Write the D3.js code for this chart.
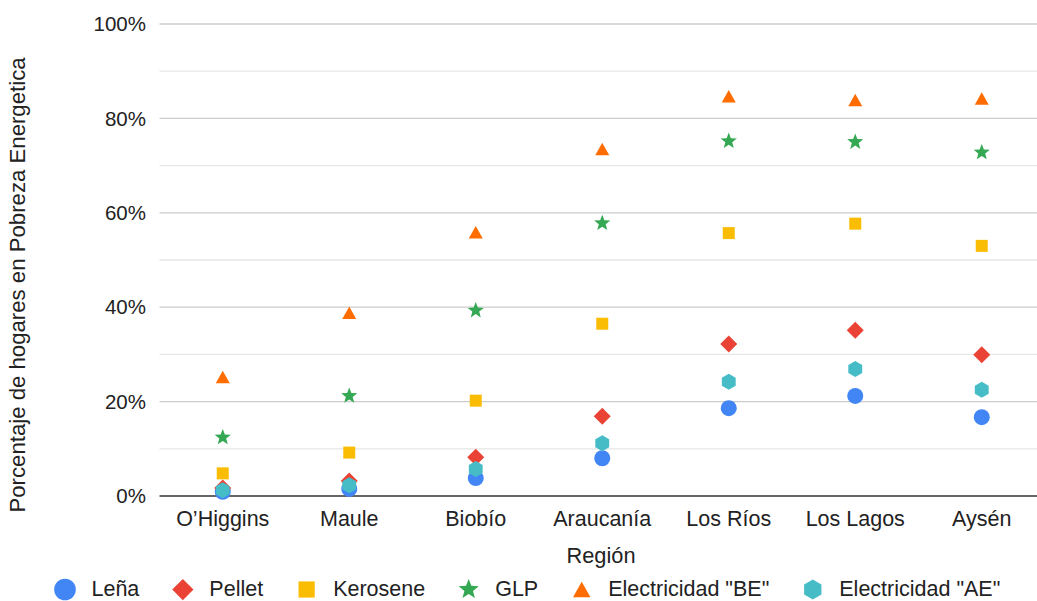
<!DOCTYPE html>
<html>
<head>
<meta charset="utf-8">
<script src="https://cdn.jsdelivr.net/npm/d3@7"></script>
<style>
  html, body { margin: 0; padding: 0; background: #fff; }
  svg { display: block; font-family: "Liberation Sans", Arial, sans-serif; }
</style>
</head>
<body>
<svg id="chart" width="1037" height="601"></svg>
<script>
const categories = ["O’Higgins", "Maule", "Biobío", "Araucanía", "Los Ríos", "Los Lagos", "Aysén"];
const lena      = [0.9, 1.5, 3.8, 8.0, 18.6, 21.2, 16.7];
const pellet    = [1.7, 3.2, 8.2, 16.9, 32.2, 35.1, 29.9];
const kerosene  = [4.8, 9.2, 20.2, 36.5, 55.7, 57.7, 53.0];
const glp       = [12.4, 21.2, 39.3, 57.8, 75.2, 75.0, 72.8];
const elecBE    = [25.2, 38.8, 55.9, 73.5, 84.7, 83.9, 84.2];
const elecAE    = [1.2, 2.3, 5.7, 11.2, 24.2, 26.9, 22.5];
const seriesNames = ["Leña", "Pellet", "Kerosene", "GLP", "Electricidad \"BE\"", "Electricidad \"AE\""];
const yTicks = [0, 20, 40, 60, 80, 100];
const yGrid = [10, 20, 30, 40, 50, 60, 70, 80, 90, 100];

const seriesValues = [lena, pellet, kerosene, glp, elecBE, elecAE];
const shapes = ["circle", "diamond", "square", "star", "triangle", "hexagon"];
const colors = ["#4285F4", "#EA4335", "#FBBC04", "#34A853", "#FF6D01", "#46BDC6"];

const svg = d3.select("#chart");
const plotLeft = 159.5, plotRight = 1045, plotTop = 24, plotBottom = 496;

const x = d3.scaleBand().domain(categories).range([plotLeft, plotRight]);
const y = d3.scaleLinear().domain([0, 100]).range([plotBottom, plotTop]);

function shapePath(shape, s) {
  const p = d3.path();
  if (shape === "circle") {
    const r = 8 * s; p.arc(0, 0, r, 0, 2 * Math.PI);
  } else if (shape === "diamond") {
    const r = 8.5 * s; p.moveTo(0, -r); p.lineTo(r, 0); p.lineTo(0, r); p.lineTo(-r, 0); p.closePath();
  } else if (shape === "square") {
    const h = 6 * s; p.rect(-h, -h, 2 * h, 2 * h);
  } else if (shape === "triangle") {
    const w = 7 * s, hgt = 12.5 * s;
    p.moveTo(0, -hgt / 2); p.lineTo(w, hgt / 2); p.lineTo(-w, hgt / 2); p.closePath();
  } else if (shape === "hexagon") {
    const r = 8 * s;
    for (let i = 0; i < 6; i++) {
      const a = -Math.PI / 2 + i * Math.PI / 3;
      const px = r * Math.cos(a), py = r * Math.sin(a);
      if (i === 0) p.moveTo(px, py); else p.lineTo(px, py);
    }
    p.closePath();
  } else if (shape === "star") {
    const ro = 8.5 * s, ri = 3.6 * s;
    for (let i = 0; i < 10; i++) {
      const a = -Math.PI / 2 + i * Math.PI / 5;
      const r = i % 2 === 0 ? ro : ri;
      const px = r * Math.cos(a), py = r * Math.sin(a);
      if (i === 0) p.moveTo(px, py); else p.lineTo(px, py);
    }
    p.closePath();
  }
  return p.toString();
}

// gridlines
svg.append("g").selectAll("line").data(yGrid).join("line")
  .attr("x1", plotLeft).attr("x2", plotRight)
  .attr("y1", d => y(d)).attr("y2", d => y(d))
  .attr("stroke", d => d % 20 === 0 ? "#cccccc" : "#e6e6e6")
  .attr("stroke-width", 1.3);

// y tick labels
svg.append("g").selectAll("text").data(yTicks).join("text")
  .attr("x", 146).attr("y", d => y(d))
  .attr("dy", "0.35em")
  .attr("text-anchor", "end")
  .attr("font-size", 20.5).attr("fill", "#222")
  .text(d => d + "%");

// baseline
svg.append("line").attr("x1", plotLeft).attr("x2", plotRight)
  .attr("y1", y(0)).attr("y2", y(0))
  .attr("stroke", "#333").attr("stroke-width", 1.6);

// x category labels
svg.append("g").selectAll("text").data(categories).join("text")
  .attr("x", d => x(d) + x.bandwidth() / 2).attr("y", 526)
  .attr("text-anchor", "middle")
  .attr("font-size", 21.5).attr("fill", "#222")
  .text(d => d);

// axis titles
svg.append("text").attr("x", 601).attr("y", 563)
  .attr("text-anchor", "middle").attr("font-size", 21.8).attr("fill", "#222")
  .text("Región");
svg.append("text")
  .attr("transform", "translate(25,285) rotate(-90)")
  .attr("text-anchor", "middle").attr("font-size", 22.2).attr("fill", "#222")
  .text("Porcentaje de hogares en Pobreza Energetica");

// points
seriesValues.forEach((vals, si) => {
  svg.append("g").selectAll("path").data(vals).join("path")
    .attr("transform", (d, i) => `translate(${x(categories[i]) + x.bandwidth() / 2},${y(d)})`)
    .attr("d", shapePath(shapes[si], 1))
    .attr("fill", colors[si]);
});

// legend
const lg = svg.append("g");
let cx = 65;
seriesNames.forEach((name, si) => {
  const s = shapes[si] === "circle" ? 1.35 : (shapes[si] === "square" ? 1.35 : 1.25);
  lg.append("path").attr("transform", `translate(${cx},589.5)`)
    .attr("d", shapePath(shapes[si], s)).attr("fill", colors[si]);
  const t = lg.append("text").attr("x", cx + 26.5).attr("y", 596)
    .attr("font-size", 21.5).attr("fill", "#222").text(name);
  cx = cx + 26.5 + t.node().getComputedTextLength() + 43.5;
});
</script>
</body>
</html>
